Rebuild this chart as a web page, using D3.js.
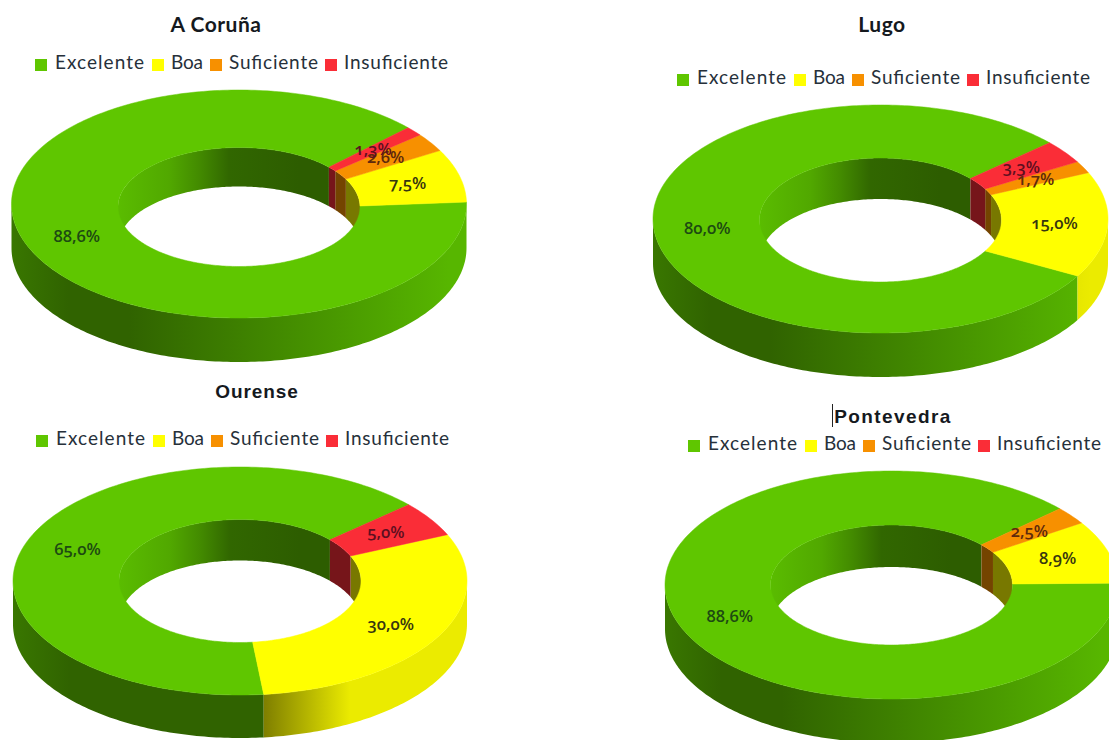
<!DOCTYPE html>
<html>
<head>
<meta charset="utf-8"/>
<script src="https://cdn.jsdelivr.net/npm/d3@7"></script>
<title>Donuts por provincia</title>
<style>
body { margin: 0; background: #fff; overflow: hidden; }
svg { display: block; }
.legend text { font-family: Lato, sans-serif; font-size: 19px; fill: #26303a; }
.label { font-family: "Open Sans", sans-serif; font-size: 16.5px; font-weight: 600; text-anchor: middle; font-variant-numeric: oldstyle-nums; font-feature-settings: "onum"; }
.title { text-anchor: middle; fill: #15191e; font-weight: 700; }
</style>
</head>
<body>
<script>
//Data
var categories = ["Excelente","Boa","Suficiente","Insuficiente"];
var provinces = ["A Coruña","Lugo","Ourense","Pontevedra"];
var coruna = [88.6,7.5,2.6,1.3];
var lugo = [80.0,15.0,1.7,3.3];
var ourense = [65.0,30.0,0,5.0];
var pontevedra = [88.6,8.9,2.5,0];
var values = [coruna,lugo,ourense,pontevedra];

var colors = ["#5fc600","#ffff00","#f79000","#fa2d37"];
var labelColors = ["#1d4a12","#37360f","#5e2a0c","#5f0f20"];

//Where each donut sits on the page
var layout = [
 {cx:239,  cy:204, rx:227.5, ry:114, depth:44, icy:207, iry:59.5, idepth:39, shadeFrom:-110, shadeTo:210, legendDx:0,   legendDy:0,
  titleX:216, titleY:32, titleFont:"Lato", titleSize:21, titleSpacing:.5},
 {cx:880.5,cy:219, rx:227.5, ry:114, depth:44, icy:220, iry:62,   idepth:41, shadeFrom:-110, shadeTo:210, legendDx:642, legendDy:15,
  titleX:882, titleY:32, titleFont:"Lato", titleSize:21, titleSpacing:.5},
 {cx:240,  cy:581, rx:227,   ry:114, depth:43, icy:581, iry:61.5, idepth:41, shadeFrom:25,   shadeTo:110, legendDx:1,   legendDy:376,
  titleX:257, titleY:398, titleFont:"Liberation Sans", titleSize:19, titleSpacing:.9},
 {cx:891.5,cy:585, rx:226.5, ry:114, depth:44, icy:585, iry:60,   idepth:42, shadeFrom:-110, shadeTo:210, legendDx:653, legendDy:381,
  titleX:893, titleY:423, titleFont:"Liberation Sans", titleSize:19, titleSpacing:1.4}
];
var innerRx = 121;
var legendSwatchX = [35,152,210,325];
var legendTextX = [55,171,229,344];
var legendTextW = [89,32,89,104];

var svg = d3.select("body").append("svg").attr("width",1109).attr("height",740);
var defs = svg.append("defs");

//First slice starts up right and the slices run anticlockwise
var start = 48*Math.PI/180;
var pie = d3.pie().sort(null).startAngle(start).endAngle(start-2*Math.PI);
var comma = d3.formatLocale({decimal:",",thousands:".",grouping:[3],currency:["","€"]}).format(".1f");
var step = Math.PI/180;

function shade(c,f)
{
var r = d3.rgb(c);
return d3.rgb(r.r*f,r.g*f,r.b*f).formatHex();
}

function gradient(id,x1,x2,stops,color)
{
var g = defs.append("linearGradient").attr("id",id)
	.attr("gradientUnits","userSpaceOnUse")
	.attr("x1",x1).attr("x2",x2).attr("y1",0).attr("y2",0);
g.selectAll("stop").data(stops).enter().append("stop")
	.attr("offset",function(d){return (d[0]-x1)/(x2-x1);})
	.attr("stop-color",function(d){return shade(color,d[1]);});
}

//Angles of a slice that fall inside [lo,hi]
function sampled(a0,a1,lo,hi)
{
var from = Math.max(Math.min(a0,a1),lo), to = Math.min(Math.max(a0,a1),hi);
if(from>=to) return [];
return d3.range(from,to,step).concat([to]);
}
function px(a,rx){return d3.pointRadial(a,rx)[0];}
function py(a,ry){return d3.pointRadial(a,ry)[1];}

values.forEach(function(vals,i)
{
var p = layout[i];
var slices = pie(vals).map(function(d,k){d.k=k;return d;});
var g = svg.append("g").attr("transform","translate("+p.cx+","+p.cy+")");
var dy = p.icy-p.cy;

categories.forEach(function(c,k)
{
	gradient("side"+i+"_"+k,-p.rx,p.rx,[[-p.rx,.6],[-p.rx*.75,.5],[p.shadeFrom,.5],[p.shadeTo,.92],[Math.max(p.shadeTo,p.rx),.92]],colors[k]);
	gradient("wall"+i+"_"+k,-innerRx,innerRx,[[-innerRx,.95],[-70,.85],[-40,.7],[-10,.52],[60,.47],[innerRx,.47]],colors[k]);
});

var outerWall = d3.area()
	.x(function(a){return px(a,p.rx);})
	.y0(function(a){return py(a,p.ry);})
	.y1(function(a){return py(a,p.ry)+p.depth;});
var innerWall = d3.area()
	.x(function(a){return px(a,innerRx);})
	.y0(function(a){return py(a,p.iry)+dy;})
	.y1(function(a){return py(a,p.iry)+dy+p.idepth;});
var face = d3.area()
	.x0(function(a){return px(a,p.rx);})
	.y0(function(a){return py(a,p.ry);})
	.x1(function(a){return px(a,innerRx);})
	.y1(function(a){return py(a,p.iry)+dy;});

//Outer side, only the front half can be seen
g.selectAll("path.outer").data(slices).enter().append("path").attr("class","outer")
	.attr("d",function(d){return outerWall(sampled(d.startAngle,d.endAngle,-1.5*Math.PI,-.5*Math.PI))||"";})
	.attr("fill",function(d){return "url(#side"+i+"_"+d.k+")";});

//Wall of the hole, only the back half can be seen
[[-.5*Math.PI,start],[start-2*Math.PI,-1.5*Math.PI]].forEach(function(range,r)
{
g.selectAll("path.inner"+r).data(slices).enter().append("path").attr("class","inner"+r)
	.attr("d",function(d){return innerWall(sampled(d.startAngle,d.endAngle,range[0],range[1]))||"";})
	.attr("fill",function(d){return "url(#wall"+i+"_"+d.k+")";});
});

//Top face
g.selectAll("path.face").data(slices).enter().append("path").attr("class","face")
	.attr("d",function(d){return face(sampled(d.startAngle,d.endAngle,-Infinity,Infinity))||"";})
	.attr("fill",function(d){return colors[d.k];})
	.attr("stroke",function(d){return d.value>0?colors[d.k]:"none";})
	.attr("stroke-width",.5);

//Value labels, nothing for empty slices
var arc = d3.arc().innerRadius(innerRx).outerRadius(p.rx);
g.selectAll("text.label").data(slices.filter(function(d){return d.value>0;})).enter().append("text")
	.attr("class","label")
	.attr("x",function(d){return arc.centroid(d)[0];})
	.attr("y",function(d){return arc.centroid(d)[1]*(p.ry/p.rx)+dy/2+5;})
	.attr("fill",function(d){return labelColors[d.k];})
	.text(function(d){return comma(d.value)+"%";});

//Title
svg.append("text").attr("class","title")
	.attr("x",p.titleX).attr("y",p.titleY)
	.style("font-family",p.titleFont).style("font-size",p.titleSize+"px").style("letter-spacing",p.titleSpacing+"px")
	.text(provinces[i]);

//Legend
var lg = svg.append("g").attr("class","legend").attr("transform","translate("+p.legendDx+","+p.legendDy+")");
lg.selectAll("rect").data(categories).enter().append("rect")
	.attr("x",function(d,k){return legendSwatchX[k];})
	.attr("y",59).attr("width",12).attr("height",12)
	.attr("fill",function(d,k){return colors[k];});
lg.selectAll("text").data(categories).enter().append("text")
	.attr("x",function(d,k){return legendTextX[k];})
	.attr("y",69)
	.attr("textLength",function(d,k){return legendTextW[k];})
	.text(function(d){return d;});
});

//Text cursor that was left in the Pontevedra title
svg.append("rect").attr("x",832).attr("y",404).attr("width",1).attr("height",23).attr("fill","#222");
</script>
</body>
</html>
